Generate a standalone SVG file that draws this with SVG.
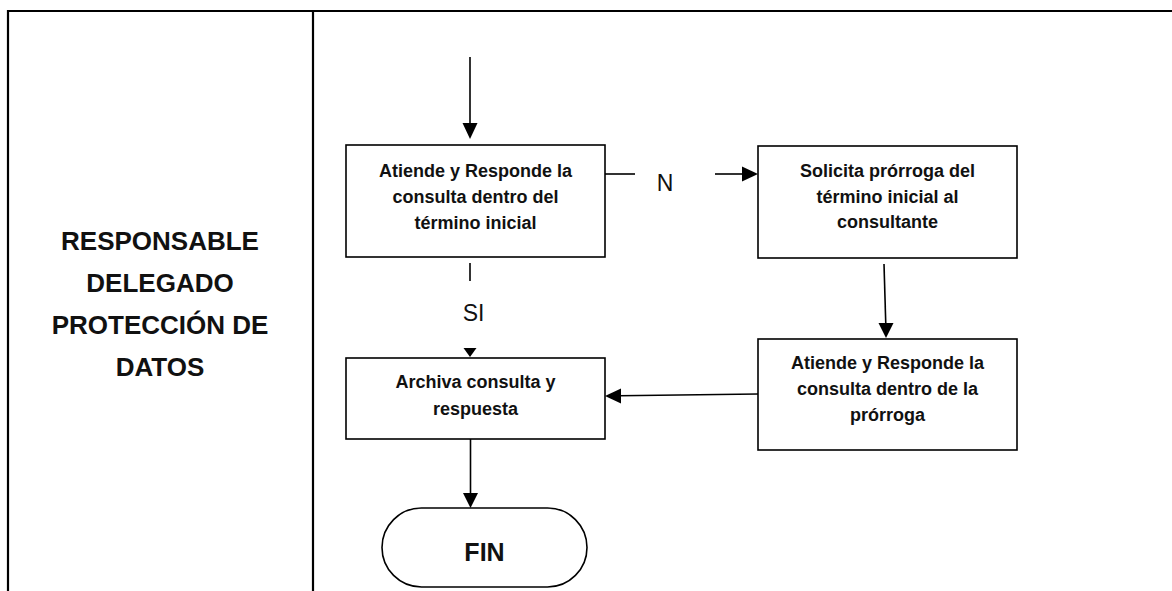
<svg xmlns="http://www.w3.org/2000/svg" width="1172" height="591" viewBox="0 0 1172 591">
<style>
.grid{stroke:#000;stroke-width:2.2;fill:none}
.box{fill:#fff;stroke:#000;stroke-width:1.6}
.ln{stroke:#000;stroke-width:1.6;fill:none}
.hd{fill:#000;stroke:none}
.t{font-family:"Liberation Sans",Arial,sans-serif;font-weight:bold;font-size:18px;fill:#111;text-anchor:middle}
.lane{font-family:"Liberation Sans",Arial,sans-serif;font-weight:bold;font-size:26px;fill:#111;text-anchor:middle}
.lbl{font-family:"Liberation Sans",Arial,sans-serif;font-size:23px;fill:#111;text-anchor:middle}
.fin{font-family:"Liberation Sans",Arial,sans-serif;font-weight:bold;font-size:25px;fill:#111;text-anchor:middle}
</style>
<rect width="1172" height="591" fill="#fff"/>
<g id="table">
<path class="grid" d="M8,591 V11 H1172 M313,11 V591"/>
</g>
<g id="lane-label">
<text class="lane" x="160" y="250">RESPONSABLE</text>
<text class="lane" x="160" y="292">DELEGADO</text>
<text class="lane" x="160" y="334">PROTECCIÓN DE</text>
<text class="lane" x="160" y="376">DATOS</text>
</g>
<g id="connectors">
<line class="ln" x1="470" y1="57" x2="470" y2="125"/>
<polygon class="hd" points="462.5,123 477.5,123 470,139"/>
<line class="ln" x1="605" y1="174" x2="635" y2="174"/>
<line class="ln" x1="715" y1="174" x2="744" y2="174"/>
<polygon class="hd" points="742,166.5 742,181.5 758,174"/>
<text class="lbl" x="665" y="191">N</text>
<line class="ln" x1="470" y1="263" x2="470" y2="281"/>
<text class="lbl" x="473.5" y="321">SI</text>
<polygon class="hd" points="463.5,348 476.5,348 470,357"/>
<line class="ln" x1="884" y1="264" x2="885.8" y2="325"/>
<polygon class="hd" points="878.5,323 893.5,323 886,338"/>
<line class="ln" x1="758" y1="394" x2="619" y2="395.8"/>
<polygon class="hd" points="621,388.5 621,403.5 605,396"/>
<line class="ln" x1="470.5" y1="439" x2="470.5" y2="495"/>
<polygon class="hd" points="463,493 478,493 470.5,508"/>
</g>
<g id="n1">
<rect class="box" x="346" y="145" width="259" height="112"/>
<text class="t" x="475.5" y="177">Atiende y Responde la</text>
<text class="t" x="475.5" y="203">consulta dentro del</text>
<text class="t" x="475.5" y="229">término inicial</text>
</g>
<g id="n2">
<rect class="box" x="758" y="146" width="259" height="112"/>
<text class="t" x="887.5" y="177">Solicita prórroga del</text>
<text class="t" x="887.5" y="203">término inicial al</text>
<text class="t" x="887.5" y="228">consultante</text>
</g>
<g id="n3">
<rect class="box" x="758" y="339" width="259" height="111"/>
<text class="t" x="887.5" y="369">Atiende y Responde la</text>
<text class="t" x="887.5" y="395">consulta dentro de la</text>
<text class="t" x="887.5" y="421">prórroga</text>
</g>
<g id="n4">
<rect class="box" x="346" y="358" width="259" height="81"/>
<text class="t" x="475.5" y="388">Archiva consulta y</text>
<text class="t" x="475.5" y="415">respuesta</text>
</g>
<g id="fin">
<rect class="box" x="382" y="508" width="205" height="79" rx="39.5" ry="39.5"/>
<text class="fin" x="484.5" y="561">FIN</text>
</g>
</svg>
